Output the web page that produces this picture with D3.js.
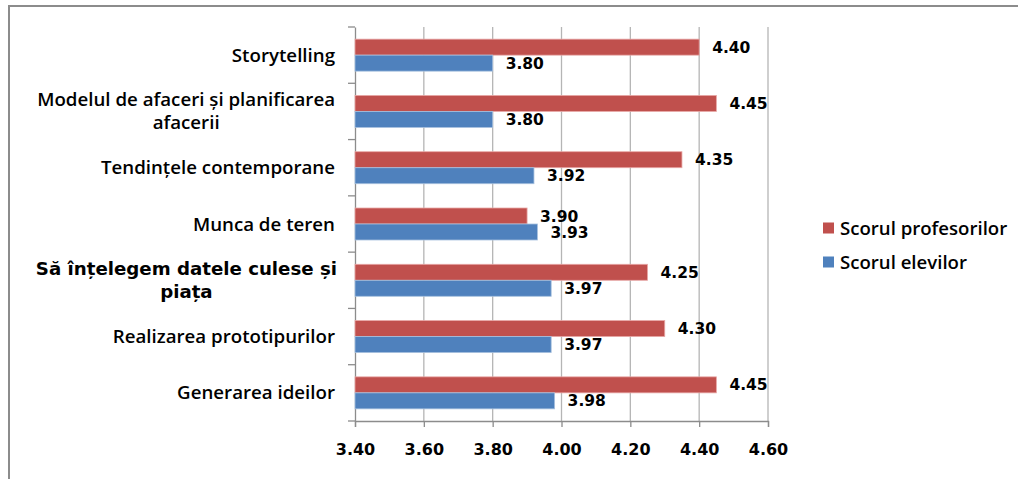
<!DOCTYPE html>
<html>
<head>
<meta charset="utf-8">
<script src="https://cdn.jsdelivr.net/npm/d3@7/dist/d3.min.js"></script>
<style>
  html, body { margin: 0; padding: 0; background: #fff; }
  svg { display: block; }
</style>
</head>
<body>
<svg id="chart" width="1018" height="479"></svg>
<script>
// Competency areas, top to bottom; each entry lists its label lines
const categories = [
  "Storytelling",
  "Modelul de afaceri și planificarea afacerii",
  "Tendințele contemporane",
  "Munca de teren",
  "Să înțelegem datele culese și piața",
  "Realizarea prototipurilor",
  "Generarea ideilor"
];
const categoryLines = [
  ["Storytelling"],
  ["Modelul de afaceri și planificarea", "afacerii"],
  ["Tendințele contemporane"],
  ["Munca de teren"],
  ["Să înțelegem datele culese și", "piața"],
  ["Realizarea prototipurilor"],
  ["Generarea ideilor"]
];
const teacherScores = [4.40, 4.45, 4.35, 3.90, 4.25, 4.30, 4.45];
const studentScores = [3.80, 3.80, 3.92, 3.93, 3.97, 3.97, 3.98];
const seriesNames = ["Scorul profesorilor", "Scorul elevilor"];
const xTicks = [3.40, 3.60, 3.80, 4.00, 4.20, 4.40, 4.60];

const colors = { teacher: "#C0504D", student: "#4F81BD" };
const labelFont = "'Open Sans', Lato, sans-serif";
const numFont = "'DejaVu Sans', Verdana, sans-serif";

const svg = d3.select("#chart");

// Outer frame (top and left edges)
svg.append("line").attr("x1", 9).attr("x2", 1018).attr("y1", 6).attr("y2", 6)
  .attr("stroke", "#8c8c8c").attr("stroke-width", 2);
svg.append("line").attr("x1", 9).attr("x2", 9).attr("y1", 5).attr("y2", 479)
  .attr("stroke", "#8c8c8c").attr("stroke-width", 2);

const x = d3.scaleLinear().domain([3.40, 4.60]).range([355, 768]);
const y = d3.scaleBand().domain(categories).range([27, 421]).paddingInner(0).paddingOuter(0);
const barH = 16;

// Vertical gridlines
svg.append("g").selectAll("line")
  .data(xTicks.slice(1))
  .join("line")
  .attr("x1", d => x(d)).attr("x2", d => x(d))
  .attr("y1", 27).attr("y2", 421)
  .attr("stroke", "#b5b5b5").attr("stroke-width", 1.3);

// Bottom value axis
const xAxis = svg.append("g").attr("transform", "translate(0,421)")
  .call(d3.axisBottom(x).tickValues(xTicks).tickFormat(d3.format(".2f")).tickSize(6).tickPadding(17));
xAxis.select(".domain").attr("stroke", "#8c8c8c").attr("stroke-width", 1.3);
xAxis.selectAll(".tick line").attr("stroke", "#8c8c8c").attr("stroke-width", 1.3);
xAxis.selectAll(".tick text")
  .attr("font-family", numFont).attr("font-weight", "bold").attr("font-size", "16px").attr("fill", "#000");

// Left category axis
const yAxis = svg.append("g").attr("transform", "translate(355,0)")
  .call(d3.axisLeft(y).tickValues([]).tickSize(0));
yAxis.select(".domain").attr("stroke", "#8c8c8c").attr("stroke-width", 1.3);
const boundaries = categories.map(c => y(c)).concat([y.range()[1]]);
svg.append("g").selectAll("line")
  .data(boundaries)
  .join("line")
  .attr("x1", 348).attr("x2", 355)
  .attr("y1", d => d).attr("y2", d => d)
  .attr("stroke", "#8c8c8c").attr("stroke-width", 1.3);

// Bars
const rows = categories.map((c, i) => ({ cat: c, teacher: teacherScores[i], student: studentScores[i] }));
const center = d => y(d.cat) + y.bandwidth() / 2;

const bars = svg.append("g");
bars.selectAll("rect.teacher")
  .data(rows).join("rect").attr("class", "teacher")
  .attr("x", x(3.40)).attr("y", d => center(d) - barH)
  .attr("width", d => x(d.teacher) - x(3.40)).attr("height", barH)
  .attr("fill", colors.teacher).attr("stroke", "#e8a8a6").attr("stroke-width", 0.8);
bars.selectAll("rect.student")
  .data(rows).join("rect").attr("class", "student")
  .attr("x", x(3.40)).attr("y", d => center(d))
  .attr("width", d => x(d.student) - x(3.40)).attr("height", barH)
  .attr("fill", colors.student).attr("stroke", "#a7c0de").attr("stroke-width", 0.8);

// Value labels
const valueLabels = svg.append("g")
  .attr("font-family", numFont).attr("font-weight", "bold").attr("font-size", "15.5px").attr("fill", "#000");
valueLabels.selectAll("text.t")
  .data(rows).join("text").attr("class", "t")
  .attr("x", d => x(d.teacher) + 13).attr("y", d => center(d) - barH / 2)
  .attr("dy", "0.36em")
  .text(d => d3.format(".2f")(d.teacher));
valueLabels.selectAll("text.s")
  .data(rows).join("text").attr("class", "s")
  .attr("x", d => x(d.student) + 13).attr("y", d => center(d) + barH / 2)
  .attr("dy", "0.36em")
  .text(d => d3.format(".2f")(d.student));

// Category labels (multi-line labels are centred within a right-aligned block)
const catG = svg.append("g").attr("fill", "#000");
const lineGap = 23;
categories.forEach((c, i) => {
  const lines = categoryLines[i];
  const special = i === 4;
  const rightEdge = special ? 337 : 335;
  const g = catG.append("g")
    .attr("font-family", special ? numFont : labelFont)
    .attr("font-weight", special ? "bold" : 600)
    .attr("font-size", special ? "18.2px" : "18.7px");
  const cy = y(c) + y.bandwidth() / 2;
  const top = cy - (lines.length - 1) * lineGap / 2;
  const texts = lines.map((l, k) => g.append("text")
    .attr("y", top + k * lineGap).attr("dy", "0.35em").text(l));
  const widths = texts.map(t => t.node().getComputedTextLength());
  const maxW = d3.max(widths);
  texts.forEach(t => t.attr("text-anchor", "middle").attr("x", rightEdge - maxW / 2));
});

// Legend
const legend = svg.append("g").attr("font-family", labelFont).attr("font-weight", 600).attr("font-size", "18.6px");
const legendItems = [
  { name: seriesNames[0], color: colors.teacher, y: 228 },
  { name: seriesNames[1], color: colors.student, y: 262 }
];
legendItems.forEach(it => {
  legend.append("rect").attr("x", 823).attr("y", it.y - 5.5).attr("width", 11).attr("height", 11).attr("fill", it.color);
  legend.append("text").attr("x", 840).attr("y", it.y).attr("dy", "0.35em").attr("fill", "#000").text(it.name);
});
</script>
</body>
</html>
